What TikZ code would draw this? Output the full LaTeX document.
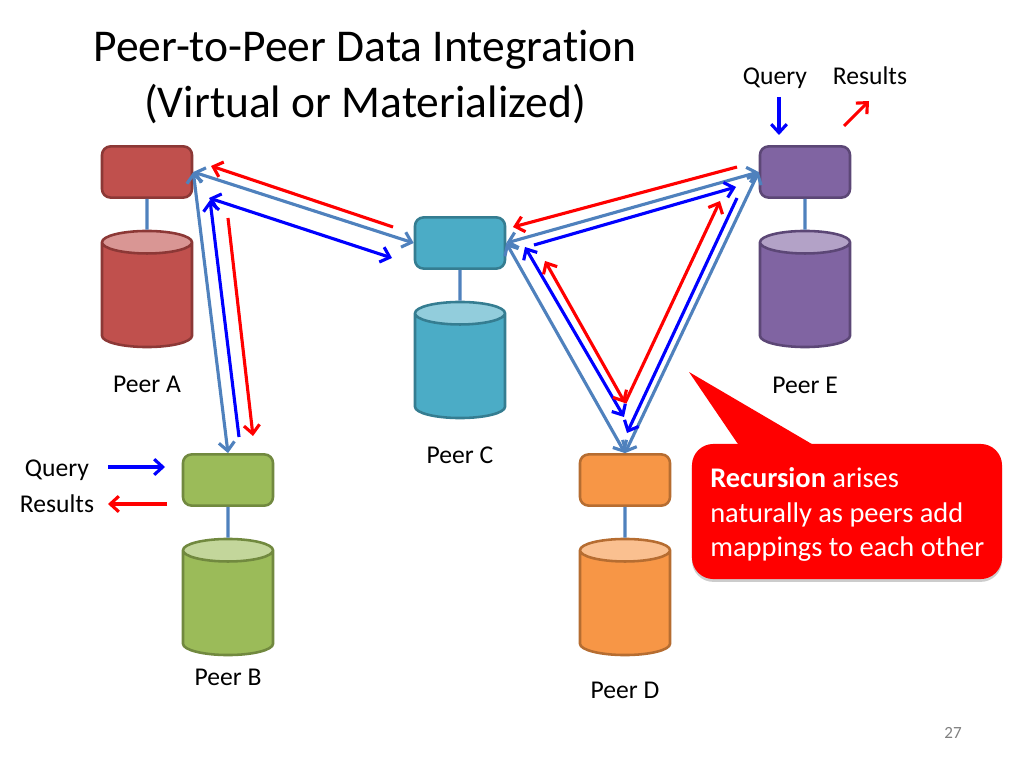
\documentclass[tikz,border=0pt]{standalone}
\usepackage{fontspec}
\setmainfont{Carlito}[Ligatures=NoCommon]
\usetikzlibrary{shapes.geometric,shadows,arrows.meta}
\definecolor{peerAfill}{HTML}{C0504D}
\definecolor{peerAline}{HTML}{8C3836}
\definecolor{peerAtop}{HTML}{D99694}
\definecolor{peerBfill}{HTML}{9BBB59}
\definecolor{peerBline}{HTML}{71893F}
\definecolor{peerBtop}{HTML}{C3D69B}
\definecolor{peerCfill}{HTML}{4BACC6}
\definecolor{peerCline}{HTML}{357D91}
\definecolor{peerCtop}{HTML}{92CDDC}
\definecolor{peerDfill}{HTML}{F79646}
\definecolor{peerDline}{HTML}{B66D31}
\definecolor{peerDtop}{HTML}{FAC090}
\definecolor{peerEfill}{HTML}{8064A2}
\definecolor{peerEline}{HTML}{5C4776}
\definecolor{peerEtop}{HTML}{B3A2C7}
\definecolor{mapline}{HTML}{4F81BD}
\tikzstyle{peerbox} = [rectangle, rounded corners=6pt, minimum width=63.3pt, minimum height=36pt, inner sep=0pt, line width=1.8pt]
\tikzstyle{peerdb} = [cylinder, shape border rotate=90, cylinder uses custom fill, shape aspect=0.25, anchor=shape center, minimum width=63.3pt, minimum height=81.6pt, inner sep=0pt, line width=1.8pt]
\tikzstyle{peerlabel} = [font=\fontsize{18}{22}\selectfont, inner sep=0pt]
\tikzstyle{both} = [{Straight Barb[length=6pt,width=11pt]}-{Straight Barb[length=6pt,width=11pt]}]
\tikzstyle{mapping} = [mapline, line width=2.2pt, both]
\tikzstyle{query} = [blue, line width=2.2pt, -{Straight Barb[length=6pt,width=11pt]}]
\tikzstyle{result} = [red, line width=2.2pt, -{Straight Barb[length=6pt,width=11pt]}]
\begin{document}
\begin{tikzpicture}[x=0.703125pt,y=-0.703125pt]
	\useasboundingbox (0,0) rectangle (1024,768);
	\node[align=center,font=\fontsize{32}{38.7}\selectfont,inner sep=0pt] (title) at (365,77) {Peer-to-Peer Data Integration\\(Virtual or Materialized)};
	% peers: box, database and label
	\foreach \p/\x/\y/\ly in {A/147/172/384,B/228/480/677,C/460/243/455,D/625/480/690,E/805/172/385}
	{
		\node[peerbox,draw=peer\p line,fill=peer\p fill] (peer\p) at (\x,\y) {};
		\node[peerdb,draw=peer\p line,cylinder body fill=peer\p fill,cylinder end fill=peer\p top] (db\p) at (\x,\y+117) {\hspace*{63.3pt}};
		\node[peerlabel] (label\p) at (\x,\ly) {Peer \p};
		\draw[mapline,line width=2.2pt] (peer\p.south) -- (db\p.north);
	}
	% mappings between peers
	\draw[mapping] (peerA.east) -- (peerC.west);
	\draw[mapping] (peerA.east) -- (peerB.north);
	\draw[mapping] (peerC.east) -- (peerE.west);
	\draw[mapping] (peerC.east) -- (peerD.north);
	\draw[mapping] (peerE.west) -- (peerD.north);
	% query and result flows
	\coordinate (ca1) at (393,227);
	\coordinate (ca2) at (211,166);
	\coordinate (ca3) at (209,198);
	\coordinate (ca4) at (392,258);
	\coordinate (ab1) at (210,200);
	\coordinate (ab2) at (239,437);
	\coordinate (ab3) at (228,218);
	\coordinate (ab4) at (253,436);
	\coordinate (ec1) at (737,167);
	\coordinate (ec2) at (513,227);
	\coordinate (ce1) at (534,245);
	\coordinate (ce2) at (736,187);
	\coordinate (cd1) at (525,247);
	\coordinate (cd2) at (624,417);
	\coordinate (cd3) at (545,261);
	\coordinate (cd4) at (625,403);
	\coordinate (de1) at (720,201);
	\coordinate (ed1) at (737,198);
	\coordinate (ed2) at (627,433);
	\draw[result] (ca1) -- (ca2);
	\draw[query,both] (ca3) -- (ca4);
	\draw[query] (ab2) -- (ab1);
	\draw[result] (ab3) -- (ab4);
	\draw[result] (ec1) -- (ec2);
	\draw[query] (ce1) -- (ce2);
	\draw[query,both] (cd1) -- (cd2);
	\draw[result,both] (cd3) -- (cd4);
	\draw[result] (cd4) -- (de1);
	\draw[query] (ed1) -- (ed2);
	% query and results at peer E
	\node[peerlabel] (queryE) at (775,78) {Query};
	\node[peerlabel] (resultsE) at (870,76) {Results};
	\coordinate (qe1) at (779,97);
	\coordinate (qe2) at (779,135);
	\coordinate (re1) at (844,126);
	\coordinate (re2) at (869,101);
	\draw[query] (qe1) -- (qe2);
	\draw[result] (re1) -- (re2);
	% query and results at peer B
	\node[peerlabel] (queryB) at (57,470) {Query};
	\node[peerlabel] (resultsB) at (57,504) {Results};
	\coordinate (qb1) at (108,467);
	\coordinate (qb2) at (165,467);
	\coordinate (rb1) at (167,504);
	\coordinate (rb2) at (108,504);
	\draw[query] (qb1) -- (qb2);
	\draw[result] (rb1) -- (rb2);
	% callout
	\node[fill=red,rounded corners=15pt,minimum width=218pt,minimum height=95pt,inner sep=0pt,drop shadow={shadow xshift=0pt,shadow yshift=-2pt,opacity=0.4}] (callout) at (847,511.5) {};
	\fill[red] (742,450) -- (689,372) -- (822,450) -- cycle;
	\node[anchor=west,align=left,text=white,font=\fontsize{20}{24}\selectfont,inner sep=0pt] (calloutText) at (710,514.5) {\textbf{Recursion} arises\\naturally as peers add\\mappings to each other};
	\node[text=gray,font=\fontsize{12}{14}\selectfont,inner sep=0pt] (pagenum) at (953,733) {27};
\end{tikzpicture}
\end{document}
